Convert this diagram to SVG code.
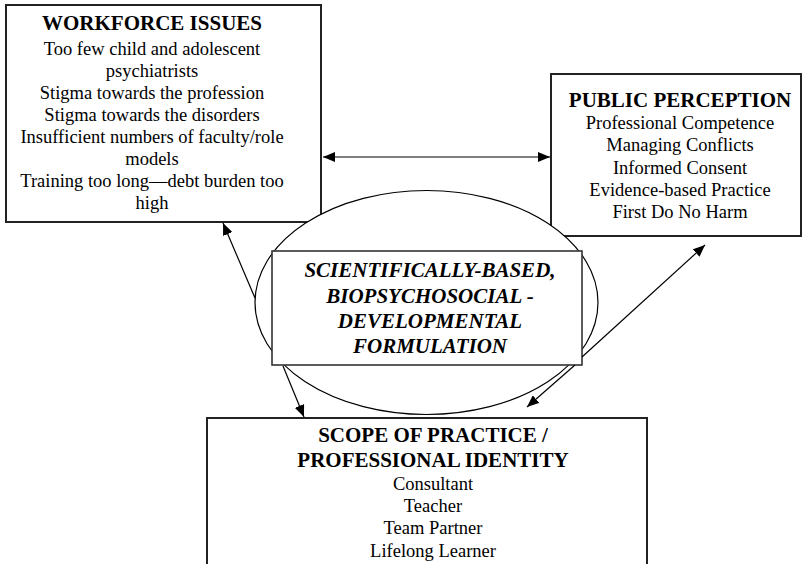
<svg xmlns="http://www.w3.org/2000/svg" width="803" height="564" viewBox="0 0 803 564">
<defs>
<marker id="ah" viewBox="0 0 12 10" refX="12" refY="5" markerWidth="12" markerHeight="10" markerUnits="userSpaceOnUse" orient="auto-start-reverse">
<path d="M0,0 L12,5 L0,10 Z" fill="#000"/>
</marker>
<style>
.box{fill:#fff;stroke:#222;stroke-width:2}
.cbox{fill:#fff;stroke:#333;stroke-width:1.6}
.ell{fill:#fff;stroke:#000;stroke-width:1.2}
.t{font-family:"Liberation Serif","Times New Roman",serif;fill:#000;text-anchor:middle}
.h{font-size:21px;font-weight:bold}
.b{font-size:18.5px}
.c{font-size:21px;font-weight:bold;font-style:italic}
.con{stroke:#000;stroke-width:1.2;fill:none;marker-end:url(#ah)}
</style>
</defs>
<rect width="803" height="564" fill="#fff"/>
<g id="workforce">
<rect class="box" x="6" y="5" width="315" height="217"/>
<text class="t h" x="152" y="30">WORKFORCE ISSUES</text>
<text class="t b" x="152" y="55">Too few child and adolescent</text>
<text class="t b" x="152" y="77">psychiatrists</text>
<text class="t b" x="152" y="99">Stigma towards the profession</text>
<text class="t b" x="152" y="121">Stigma towards the disorders</text>
<text class="t b" x="152" y="143">Insufficient numbers of faculty/role</text>
<text class="t b" x="152" y="165">models</text>
<text class="t b" x="152" y="187">Training too long—debt burden too</text>
<text class="t b" x="152" y="209">high</text>
</g>
<g id="public">
<rect class="box" x="551" y="74" width="250" height="162"/>
<text class="t h" x="680" y="107">PUBLIC PERCEPTION</text>
<text class="t b" x="680" y="129">Professional Competence</text>
<text class="t b" x="680" y="151">Managing Conflicts</text>
<text class="t b" x="680" y="174">Informed Consent</text>
<text class="t b" x="680" y="196">Evidence-based Practice</text>
<text class="t b" x="680" y="218">First Do No Harm</text>
</g>
<g id="formulation">
<ellipse class="ell" cx="426.5" cy="302.5" rx="171.5" ry="112"/>
<rect class="cbox" x="272" y="251" width="310" height="114"/>
<text class="t c" x="430" y="277">SCIENTIFICALLY-BASED,</text>
<text class="t c" x="430" y="303">BIOPSYCHOSOCIAL -</text>
<text class="t c" x="430" y="328">DEVELOPMENTAL</text>
<text class="t c" x="430" y="353">FORMULATION</text>
</g>
<g id="scope">
<rect class="box" x="207" y="418" width="440" height="160"/>
<text class="t h" x="433" y="442">SCOPE OF PRACTICE /</text>
<text class="t h" x="433" y="467">PROFESSIONAL IDENTITY</text>
<text class="t b" x="433" y="490">Consultant</text>
<text class="t b" x="433" y="512">Teacher</text>
<text class="t b" x="433" y="534">Team Partner</text>
<text class="t b" x="433" y="557">Lifelong Learner</text>
</g>
<g id="connectors">
<path class="con" d="M323,157 L550,157" marker-start="url(#ah)"/>
<path class="con" d="M255,298 L223,223"/>
<path class="con" d="M283,366 L304,417"/>
<path class="con" d="M582,357 L705,245"/>
<path class="con" d="M575,365 L527,407"/>
</g>
</svg>
